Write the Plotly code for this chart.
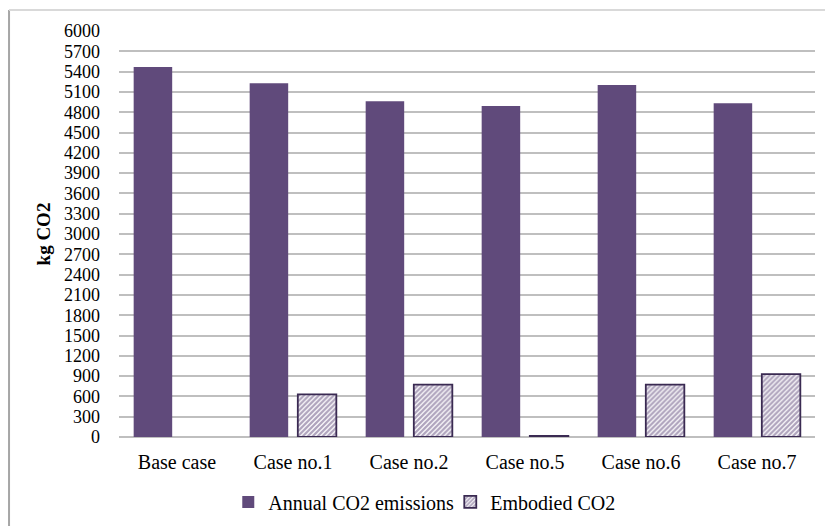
import plotly.graph_objects as go

# Chart data
categories = ["Base case", "Case no.1", "Case no.2", "Case no.5", "Case no.6", "Case no.7"]
annual_co2 = [5469, 5228, 4963, 4893, 5203, 4933]
embodied_co2 = [None, 630, 775, 15, 775, 930]
y_ticks = list(range(0, 6001, 300))

PURPLE = "#604A7B"
OUTLINE = "#3A2A52"
GRID = "#BFBFBF"
FONT = "Liberation Serif, Times New Roman, serif"

fig = go.Figure()
fig.add_trace(go.Bar(
    x=categories, y=annual_co2, name="Annual CO2 emissions",
    marker=dict(color=PURPLE, line=dict(width=0)),
))
fig.add_trace(go.Bar(
    x=categories, y=embodied_co2, name="Embodied CO2",
    marker=dict(
        color="white",
        line=dict(color=OUTLINE, width=1.8),
        pattern=dict(shape="/", fgcolor=PURPLE, bgcolor="white", size=3.5, solidity=0.65),
    ),
))

fig.update_layout(
    width=825, height=526,
    margin=dict(l=119, r=10, t=31, b=89, autoexpand=False),
    paper_bgcolor="white", plot_bgcolor="white",
    font=dict(family=FONT, size=18, color="#000000"),
    barmode="group", bargap=0.17, bargroupgap=0.2,
    showlegend=True,
    legend=dict(orientation="h", x=0.157, xanchor="left", y=-0.16, yanchor="middle",
                font=dict(size=20), itemwidth=30, tracegroupgap=0,
                entrywidth=177, entrywidthmode="pixels"),
    xaxis=dict(showgrid=False, showline=False, ticks="", ticklabelstandoff=11,
               tickfont=dict(size=20), automargin=False),
    yaxis=dict(range=[0, 6000], tickvals=y_ticks, ticktext=[str(v) for v in y_ticks],
               showgrid=True, gridcolor=GRID, gridwidth=2, zeroline=True,
               zerolinecolor=GRID, zerolinewidth=2, showline=False, ticks="",
               ticklabelstandoff=18, tickfont=dict(size=18), automargin=False,
               title=dict(text="<b>kg CO2</b>", font=dict(size=19), standoff=8)),
    shapes=[
        # outer chart frame (left and top edges)
        dict(type="line", xref="paper", yref="paper", x0=-0.158, x1=-0.158, y0=1.0517, y1=-0.25,
             line=dict(color="#A6A6A6", width=2)),
        dict(type="line", xref="paper", yref="paper", x0=-0.158, x1=1.05, y0=1.0517, y1=1.0517,
             line=dict(color="#D9D9D9", width=2)),
    ],
)

fig.write_html("out.html")
